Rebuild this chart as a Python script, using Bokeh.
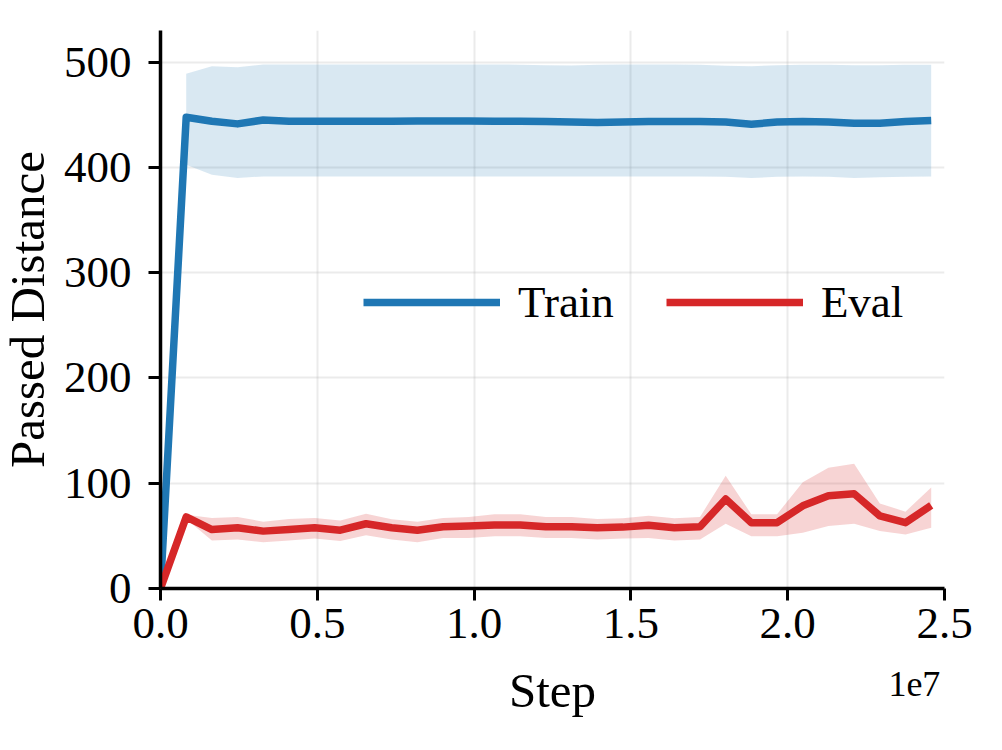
from bokeh.plotting import figure
from bokeh.models import (ColumnDataSource, FixedTicker, Legend, LegendItem,
                          LinearAxis, Range1d)
from bokeh.embed import file_html
from bokeh.resources import INLINE

# ---- data ----
step_size = 819200
n_points = 31
steps = [i * step_size for i in range(n_points)]

train_mean = [0, 447.6, 443.8, 441.3, 445.0, 443.8, 443.8, 443.8, 443.8, 443.8,
              444.0, 444.0, 444.0, 443.8, 443.8, 443.5, 443.0, 442.5, 443.0, 443.5,
              443.5, 443.5, 443.0, 441.0, 443.0, 443.5, 443.0, 442.0, 442.0, 443.5, 444.4]
train_upper = [489.0, 496.0, 495.0, 497.8, 497.8, 497.8, 497.8, 497.8, 497.8, 497.8,
               497.8, 497.8, 497.8, 497.5, 497.0, 496.8, 497.5, 497.8, 497.8, 497.8,
               497.5, 496.5, 496.0, 497.0, 497.5, 497.5, 497.0, 497.0, 497.5, 497.5]
train_lower = [402.5, 393.0, 390.0, 391.4, 391.4, 391.4, 391.4, 391.4, 391.4, 391.4,
               391.4, 391.4, 391.4, 391.4, 391.4, 391.4, 391.4, 391.4, 391.4, 391.4,
               391.4, 391.0, 390.0, 391.0, 391.4, 391.0, 390.0, 390.5, 391.0, 391.4]

eval_mean = [0, 68.0, 56.0, 57.7, 54.5, 56.0, 57.7, 55.4, 61.5, 57.7,
             55.4, 58.6, 59.3, 60.3, 60.3, 58.6, 58.6, 57.7, 58.3, 60.0,
             57.7, 58.6, 85.0, 62.5, 62.5, 78.5, 88.0, 90.0, 69.0, 62.5, 79.0]
eval_upper = [70.0, 67.0, 68.0, 63.5, 66.0, 67.0, 64.7, 71.0, 65.7, 63.5,
              67.0, 68.0, 70.5, 70.5, 68.0, 68.0, 66.0, 66.7, 69.0, 66.7,
              68.0, 107.0, 70.5, 70.5, 101.0, 114.7, 118.6, 80.8, 73.0, 96.0]
eval_lower = [66.0, 45.5, 46.5, 44.0, 45.5, 47.4, 45.0, 50.6, 46.5, 44.0,
              48.0, 48.0, 49.7, 49.7, 48.0, 48.0, 46.5, 47.4, 48.0, 45.5,
              46.5, 61.5, 49.7, 49.7, 52.9, 59.3, 61.5, 54.5, 51.3, 57.7]

x_ticks = [0, 5000000, 10000000, 15000000, 20000000, 25000000]
x_tick_labels = ["0.0", "0.5", "1.0", "1.5", "2.0", "2.5"]
y_ticks = [0, 100, 200, 300, 400, 500]
series_names = ["Train", "Eval"]
x_label = "Step"
y_label = "Passed Distance"
offset_text = "1e7"

BLUE = "#1f77b4"
RED = "#d62728"
FONT = "Liberation Serif"

X_MAX = 25000000
SHIFT = 22  # canvas pixels hidden to the left of the window

p = figure(width=1002 + SHIFT, height=750, output_backend="svg", toolbar_location=None,
           x_range=Range1d(0, X_MAX), y_range=Range1d(0, 530),
           min_border_left=160 + SHIFT, min_border_right=58, min_border_top=30,
           min_border_bottom=162, margin=(0, 0, 0, -SHIFT))
p.outline_line_color = None
p.background_fill_color = "white"
p.border_fill_color = "white"

band_train = ColumnDataSource(dict(x=steps[1:], lo=train_lower, hi=train_upper))
band_eval = ColumnDataSource(dict(x=steps[1:], lo=eval_lower, hi=eval_upper))
p.varea(x="x", y1="lo", y2="hi", source=band_train, fill_color=BLUE, fill_alpha=0.17)
p.varea(x="x", y1="lo", y2="hi", source=band_eval, fill_color=RED, fill_alpha=0.2)

r_train = p.line(steps, train_mean, line_color=BLUE, line_width=7.5, line_join="round")
r_eval = p.line(steps, eval_mean, line_color=RED, line_width=7.5, line_join="round")

legend = Legend(items=[LegendItem(label=series_names[0], renderers=[r_train]),
                       LegendItem(label=series_names[1], renderers=[r_eval])],
                orientation="horizontal", location=(203, 260),
                glyph_width=137, glyph_height=50, label_height=50,
                label_standoff=18, spacing=52, padding=0, margin=0,
                border_line_color=None, background_fill_alpha=0,
                label_text_font=FONT, label_text_font_size="45px",
                label_text_color="black")
p.add_layout(legend, "center")

for ax in (p.xaxis[0], p.yaxis[0]):
    ax.axis_line_width = 3.5
    ax.axis_line_color = "black"
    ax.major_tick_line_width = 3
    ax.major_tick_line_color = "black"
    ax.major_tick_out = 12
    ax.major_tick_in = 0
    ax.minor_tick_line_color = None
    ax.major_label_text_font = FONT
    ax.major_label_text_font_size = "45px"
    ax.major_label_text_color = "black"
    ax.axis_label_text_font = FONT
    ax.axis_label_text_font_size = "49px"
    ax.axis_label_text_font_style = "normal"
    ax.axis_label_text_color = "black"

p.xaxis.ticker = FixedTicker(ticks=x_ticks)
p.xaxis.major_label_overrides = {t: s for t, s in zip(x_ticks, x_tick_labels)}
p.xaxis.major_label_standoff = 8

p.yaxis.ticker = FixedTicker(ticks=y_ticks)
p.yaxis.major_label_standoff = 17
p.yaxis.axis_label = y_label
p.yaxis.axis_label_standoff = 6

# second, line-less bottom axis: carries the x title and the 1e7 offset text on one row
offset_pos = X_MAX - 960000
axis_b = LinearAxis(ticker=FixedTicker(ticks=[offset_pos]),
                    major_label_overrides={offset_pos: offset_text},
                    axis_line_color=None, major_tick_line_color=None,
                    minor_tick_line_color=None, major_tick_out=0, major_tick_in=0,
                    major_label_standoff=31,
                    major_label_text_font=FONT, major_label_text_font_size="36px",
                    major_label_text_color="black",
                    axis_label=x_label, axis_label_standoff=-36,
                    axis_label_text_font=FONT, axis_label_text_font_size="49px",
                    axis_label_text_font_style="normal", axis_label_text_color="black")
p.add_layout(axis_b, "below")

p.xgrid.ticker = FixedTicker(ticks=x_ticks)
p.ygrid.ticker = FixedTicker(ticks=y_ticks)
for g in (p.xgrid[0], p.ygrid[0]):
    g.grid_line_color = "#b0b0b0"
    g.grid_line_alpha = 0.25
    g.grid_line_width = 2

open("out.html", "w").write(file_html(p, INLINE))
